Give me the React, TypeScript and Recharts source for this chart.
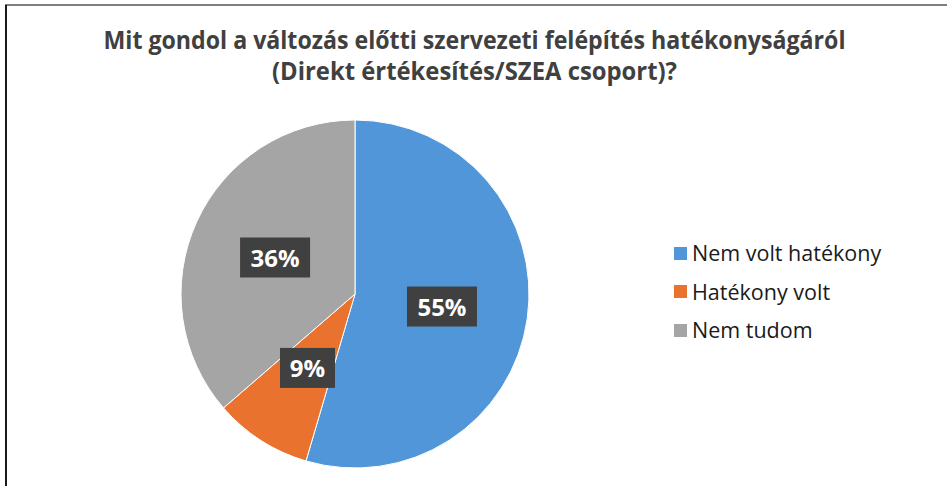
import React from "react";
import { PieChart, Pie, Cell, Legend } from "recharts";

const categories = ["Nem volt hatékony", "Hatékony volt", "Nem tudom"];
const values = [12, 2, 8];
const colors = ["#5096d8", "#e9722f", "#a5a5a5"];
const titleLines = [
  "Mit gondol a változás előtti szervezeti felépítés hatékonyságáról",
  "(Direkt értékesítés/SZEA csoport)?",
];

const data = categories.map((name, i) => ({ name, value: values[i] }));
const RADIAN = Math.PI / 180;

const renderLabel = (props: any) => {
  const { cx, cy, midAngle, outerRadius, percent } = props;
  const r = outerRadius * 0.505;
  const x = cx + r * Math.cos(-midAngle * RADIAN);
  const y = cy + r * Math.sin(-midAngle * RADIAN);
  const text = `${Math.round(percent * 100)}%`;
  const w = text.length === 2 ? 55 : 70;
  const h = 40;
  return (
    <g>
      <rect x={x - w / 2} y={y - h / 2} width={w} height={h} fill="#404040" />
      <text
        x={x}
        y={y}
        textAnchor="middle"
        dominantBaseline="central"
        fill="#ffffff"
        fontFamily="'Open Sans', sans-serif"
        fontWeight={700}
        fontSize={24}
      >
        {text}
      </text>
    </g>
  );
};

const renderLegend = () => (
  <div style={{ fontFamily: "'Open Sans', sans-serif", fontSize: 21.5, color: "#1a1a1a" }}>
    {categories.map((c, i) => (
      <div key={c} style={{ display: "flex", alignItems: "center", height: 38.5 }}>
        <span style={{ width: 13, height: 13, background: colors[i], display: "inline-block", marginRight: 5 }} />
        <span style={{ lineHeight: "24px" }}>{c}</span>
      </div>
    ))}
  </div>
);

export default function App() {
  return (
    <div style={{ position: "fixed", left: 0, top: 0, width: 947, height: 486, background: "#fff", overflow: "hidden" }}>
      <div style={{ position: "absolute", left: 5, top: 4, width: 942, height: 2, background: "#7f7f7f" }} />
      <div style={{ position: "absolute", left: 5, top: 5, width: 2, height: 481, background: "#1a1a1a" }} />
      <svg width={947} height={100} style={{ position: "absolute", left: 0, top: 0 }}>
        <text x={474.5} y={49} textAnchor="middle" fontFamily="'Open Sans', sans-serif" fontWeight={700} fontSize={25.5} fill="#404040" textLength={742} lengthAdjust="spacingAndGlyphs">
          {titleLines[0]}
        </text>
        <text x={474.5} y={80} textAnchor="middle" fontFamily="'Open Sans', sans-serif" fontWeight={700} fontSize={25.5} fill="#404040" textLength={405} lengthAdjust="spacingAndGlyphs">
          {titleLines[1]}
        </text>
      </svg>
      <div style={{ position: "absolute", left: 0, top: 0 }}>
        <PieChart width={947} height={486} margin={{ top: 0, right: 0, bottom: 0, left: 0 }}>
          <Pie
            data={data}
            dataKey="value"
            nameKey="name"
            cx={355}
            cy={294}
            outerRadius={174}
            startAngle={90}
            endAngle={-270}
            stroke="#ffffff"
            strokeWidth={1}
            label={renderLabel}
            labelLine={false}
            isAnimationActive={false}
          >
            {data.map((d, i) => (
              <Cell key={d.name} fill={colors[i]} />
            ))}
          </Pie>
          <Legend
            content={renderLegend}
            wrapperStyle={{ position: "absolute", left: 674, top: 234, width: 260 }}
          />
        </PieChart>
      </div>
    </div>
  );
}
